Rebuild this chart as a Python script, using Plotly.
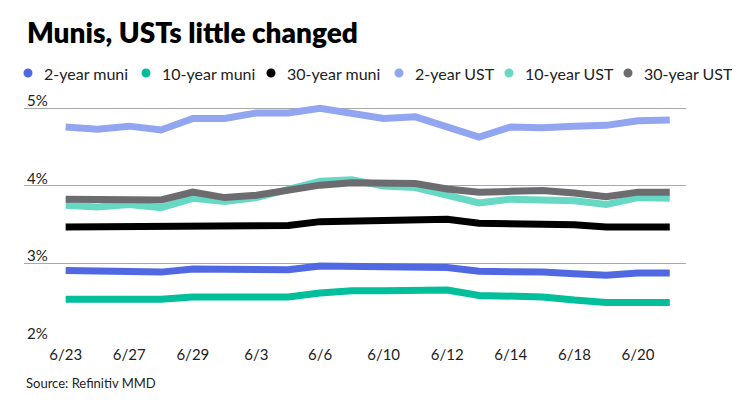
import plotly.graph_objects as go

dates = ["6/23", "6/24", "6/27", "6/28", "6/29", "6/30", "6/3", "6/4", "6/6", "6/7",
         "6/10", "6/11", "6/12", "6/13", "6/14", "6/17", "6/18", "6/19", "6/20", "6/21"]
tick_labels = ["6/23", "6/27", "6/29", "6/3", "6/6", "6/10", "6/12", "6/14", "6/18", "6/20"]

muni_2y = [2.91, 2.91, 2.89, 2.89, 2.93, 2.93, 2.92, 2.92, 2.97, 2.97,
           2.97, 2.97, 2.95, 2.90, 2.90, 2.89, 2.87, 2.85, 2.88, 2.88]
muni_10y = [2.54, 2.54, 2.54, 2.54, 2.57, 2.57, 2.57, 2.57, 2.62, 2.65,
            2.65, 2.65, 2.66, 2.59, 2.59, 2.57, 2.53, 2.50, 2.50, 2.50]
muni_30y = [3.47, 3.47, 3.47, 3.47, 3.49, 3.49, 3.49, 3.49, 3.54, 3.55,
            3.57, 3.57, 3.57, 3.52, 3.52, 3.50, 3.50, 3.47, 3.47, 3.47]
ust_2y = [4.76, 4.73, 4.77, 4.72, 4.87, 4.87, 4.94, 4.94, 5.00, 4.94,
          4.87, 4.89, 4.76, 4.63, 4.76, 4.75, 4.77, 4.78, 4.84, 4.85]
ust_10y = [3.75, 3.73, 3.76, 3.72, 3.84, 3.80, 3.85, 3.95, 4.06, 4.08,
           4.00, 3.98, 3.88, 3.78, 3.83, 3.82, 3.81, 3.76, 3.85, 3.84]
ust_30y = [3.83, 3.83, 3.84, 3.82, 3.92, 3.85, 3.88, 3.95, 4.01, 4.04,
           4.04, 4.03, 3.96, 3.92, 3.93, 3.94, 3.91, 3.86, 3.92, 3.92]

series_names = ["2-year muni", "10-year muni", "30-year muni",
                "2-year UST", "10-year UST", "30-year UST"]
series_values = [muni_2y, muni_10y, muni_30y, ust_2y, ust_10y, ust_30y]
series_colors = ["#5069E3", "#00BF9A", "#000000", "#91A5F1", "#67D8C3", "#6C6C70"]

# figure geometry (figure pixels; page body adds an 8px offset)
W, H = 740, 416
L, R, T, B = 16, 62, 77, 81.5
PW, PH = W - L - R, H - T - B


def px_x(x):
    return (x - L) / PW


def px_y(y):
    return (H - B - y) / PH


fig = go.Figure()
for name, vals, color in zip(series_names, series_values, series_colors):
    fig.add_trace(go.Scatter(x=dates, y=vals, mode="lines", name=name,
                             line=dict(color=color, width=7), showlegend=False,
                             hoverinfo="skip"))

# legend built from dots + text labels
legend_dot_x = [20, 138, 263, 391, 501, 620]
legend_text_x = [34, 152, 277, 405, 515, 634]
legend_y = 65
r = 4.5
shapes = []
annotations = []
for name, color, dx, tx in zip(series_names, series_colors, legend_dot_x, legend_text_x):
    shapes.append(dict(type="circle", xref="paper", yref="paper",
                       x0=px_x(dx - r), x1=px_x(dx + r),
                       y0=px_y(legend_y + r), y1=px_y(legend_y - r),
                       fillcolor=color, line=dict(width=0)))
    annotations.append(dict(text=name, xref="paper", yref="paper",
                            x=px_x(tx), y=px_y(legend_y), xanchor="left",
                            yanchor="middle", showarrow=False,
                            font=dict(size=16, color="#222222")))

annotations.append(dict(text="Source: Refinitiv MMD", xref="paper", yref="paper",
                        x=px_x(16), y=px_y(376), xanchor="left", yanchor="middle",
                        showarrow=False, font=dict(size=13, color="#222222")))

fig.update_layout(
    width=W, height=H,
    margin=dict(l=L, r=R, t=T, b=B, autoexpand=False),
    paper_bgcolor="white", plot_bgcolor="white",
    font=dict(family="Lato", size=15, color="#222222"),
    showlegend=False,
    title=dict(text="Munis, USTs little changed", x=19 / 740, xanchor="left",
               xref="container", y=1 - 25 / 416, yanchor="middle",
               font=dict(family="Lato", size=28, color="#000000", weight=800)),
    xaxis=dict(type="category", categoryorder="array", categoryarray=dates,
               range=[-1.31, 19.51], tickmode="array", tickvals=tick_labels,
               ticktext=tick_labels, showgrid=False, showline=False,
               zeroline=False, ticks="", ticklabelstandoff=2,
               tickfont=dict(size=15, color="#222222")),
    yaxis=dict(range=[1.99, 5.3], tickvals=[2, 3, 4, 5],
               ticktext=["2%", "3%", "4%", "5%"], ticklabelposition="inside top",
               ticklabelshift=3,
               showgrid=True, gridcolor="#A8A8A8", gridwidth=1, zeroline=False,
               showline=False, ticks="", tickfont=dict(size=15, color="#222222")),
    shapes=shapes,
    annotations=annotations,
)

fig.write_html("out.html")
